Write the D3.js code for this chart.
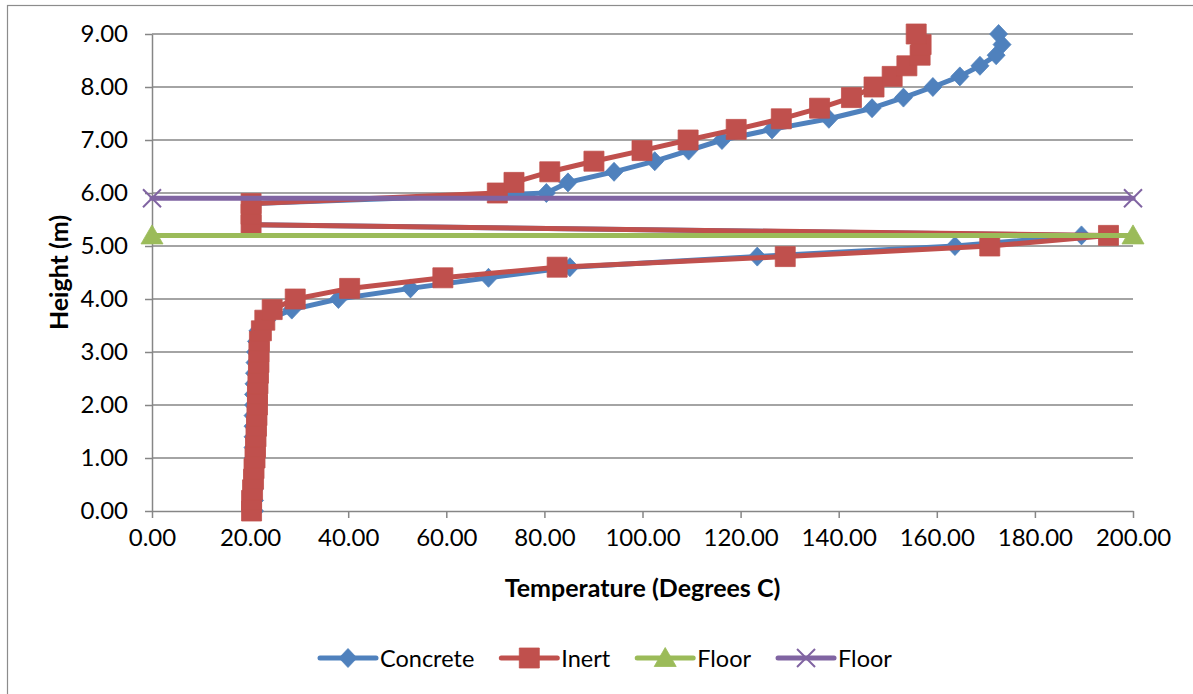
<!DOCTYPE html>
<html>
<head>
<meta charset="utf-8">
<script src="https://cdn.jsdelivr.net/npm/d3@7"></script>
<style>
  html, body { margin: 0; padding: 0; background: #ffffff; }
  svg { display: block; }
  text { font-family: Lato, "Open Sans", sans-serif; fill: #000; }
</style>
</head>
<body>
<svg id="chart" width="1193" height="694"></svg>
<script>
// Height of each measuring point (m)
const heights = [0.0, 0.2, 0.4, 0.6, 0.8, 1.0, 1.2, 1.4, 1.6, 1.8,
                 2.0, 2.2, 2.4, 2.6, 2.8, 3.0, 3.2, 3.4, 3.6, 3.8,
                 4.0, 4.2, 4.4, 4.6, 4.8, 5.0, 5.2, 5.4, 5.6, 5.8,
                 6.0, 6.2, 6.4, 6.6, 6.8, 7.0, 7.2, 7.4, 7.6, 7.8,
                 8.0, 8.2, 8.4, 8.6, 8.8, 9.0];

// Temperatures (Degrees C) at each height
const concreteTemps = [20.9, 20.9, 20.8, 20.7, 20.7, 20.6, 20.6, 20.6, 20.6, 20.6,
                       20.7, 20.7, 20.8, 20.9, 21.0, 21.1, 21.3, 21.6, 23.4, 28.5,
                       38.0, 52.7, 68.6, 85.2, 123.4, 163.7, 189.5, 20.2, 20.2, 20.2,
                       80.4, 84.8, 94.2, 102.5, 109.4, 116.2, 126.4, 138.0, 146.8, 153.2,
                       159.2, 164.7, 168.8, 172.1, 173.3, 172.6];

const inertTemps = [20.3, 20.3, 20.5, 20.7, 20.8, 21.0, 21.1, 21.2, 21.3, 21.4,
                    21.5, 21.5, 21.6, 21.7, 21.8, 21.8, 21.9, 22.3, 23.0, 24.5,
                    29.2, 40.3, 59.3, 82.6, 129.1, 170.8, 195.0, 20.2, 20.2, 20.2,
                    70.4, 73.8, 81.1, 90.1, 99.9, 109.3, 119.1, 128.3, 136.1, 142.6,
                    147.2, 150.9, 153.9, 156.6, 156.8, 155.8];

// Floor levels drawn across the full temperature range
const floorTemps = [0, 200];
const floorLowHeights = [5.2, 5.2];
const floorHighHeights = [5.9, 5.9];

// Axis ticks
const xTicks = [0, 20, 40, 60, 80, 100, 120, 140, 160, 180, 200];
const yTicks = [0, 1, 2, 3, 4, 5, 6, 7, 8, 9];

const seriesNames = ["Concrete", "Inert", "Floor", "Floor"];
const seriesColors = ["#4F81BD", "#C0504D", "#9BBB59", "#8064A2"];
const seriesMarkers = ["diamond", "square", "triangle", "cross"];

const series = [
  { name: seriesNames[0], color: seriesColors[0], marker: seriesMarkers[0],
    points: heights.map((h, i) => ({ t: concreteTemps[i], h })) },
  { name: seriesNames[1], color: seriesColors[1], marker: seriesMarkers[1],
    points: heights.map((h, i) => ({ t: inertTemps[i], h })) },
  { name: seriesNames[2], color: seriesColors[2], marker: seriesMarkers[2],
    points: floorTemps.map((t, i) => ({ t, h: floorLowHeights[i] })) },
  { name: seriesNames[3], color: seriesColors[3], marker: seriesMarkers[3],
    points: floorTemps.map((t, i) => ({ t, h: floorHighHeights[i] })) }
];

const svg = d3.select("#chart");
const plot = { left: 152, right: 1133, top: 34, bottom: 511 };
const axisGray = "#868686";

const x = d3.scaleLinear().domain([0, 200]).range([plot.left, plot.right]);
const y = d3.scaleLinear().domain([0, 9]).range([plot.bottom, plot.top]);

// Chart frame
svg.append("rect")
  .attr("x", 7.5).attr("y", 5.5)
  .attr("width", 1200).attr("height", 700)
  .attr("fill", "none").attr("stroke", "#8c8c8c").attr("stroke-width", 1.2);

// Horizontal gridlines
svg.append("g")
  .selectAll("line")
  .data(yTicks.filter(v => v > 0))
  .join("line")
  .attr("x1", plot.left).attr("x2", plot.right)
  .attr("y1", d => y(d)).attr("y2", d => y(d))
  .attr("stroke", axisGray).attr("stroke-width", 1.5);

// Y axis
const yAxis = svg.append("g")
  .attr("transform", `translate(${plot.left},0)`)
  .call(d3.axisLeft(y).tickValues(yTicks).tickFormat(d3.format(".2f"))
        .tickSizeInner(7).tickSizeOuter(0).tickPadding(17));
yAxis.select(".domain").attr("stroke", axisGray).attr("stroke-width", 1.5);
yAxis.selectAll(".tick line").attr("stroke", axisGray).attr("stroke-width", 1.5);
yAxis.selectAll(".tick text")
  .style("font-family", "Lato, sans-serif").style("font-size", "24px").attr("fill", "#000");

// X axis
const xAxis = svg.append("g")
  .attr("transform", `translate(0,${plot.bottom})`)
  .call(d3.axisBottom(x).tickValues(xTicks).tickFormat(d3.format(".2f"))
        .tickSizeInner(7).tickSizeOuter(0).tickPadding(11));
xAxis.select(".domain").attr("stroke", axisGray).attr("stroke-width", 1.5);
xAxis.selectAll(".tick line").attr("stroke", axisGray).attr("stroke-width", 1.5);
xAxis.selectAll(".tick text")
  .style("font-family", "Lato, sans-serif").style("font-size", "24px").attr("fill", "#000");

// Axis titles
svg.append("text")
  .attr("x", (plot.left + plot.right) / 2).attr("y", 587)
  .attr("text-anchor", "middle").attr("dominant-baseline", "central")
  .style("font-size", "25px").style("font-weight", "bold")
  .text("Temperature (Degrees C)");

svg.append("text")
  .attr("transform", `translate(58,${(plot.top + plot.bottom) / 2}) rotate(-90)`)
  .attr("text-anchor", "middle").attr("dominant-baseline", "central")
  .style("font-size", "25px").style("font-weight", "bold")
  .text("Height (m)");

// Marker shapes
function markerPath(kind) {
  switch (kind) {
    case "diamond": return "M0,-9.5L9,0L0,9.5L-9,0Z";
    case "square": return "M-10,-10H10V10H-10Z";
    case "triangle": return "M0,-10.5L11,8.5H-11Z";
    case "cross": return "M-9,-9L9,9M-9,9L9,-9";
  }
}
function drawMarker(g, kind, color) {
  const p = g.append("path").attr("d", markerPath(kind));
  if (kind === "cross") {
    p.attr("fill", "none").attr("stroke", color).attr("stroke-width", 2);
  } else {
    p.attr("fill", color).attr("stroke", color).attr("stroke-width", 0.8);
  }
}

const line = d3.line().x(d => x(d.t)).y(d => y(d.h));

// Series: line then markers, each series over the previous one
series.forEach(s => {
  const g = svg.append("g");
  g.append("path")
    .datum(s.points)
    .attr("d", line)
    .attr("fill", "none")
    .attr("stroke", s.color)
    .attr("stroke-width", 5)
    .attr("stroke-linejoin", "round")
    .attr("stroke-linecap", "round");
  s.points.forEach(p => {
    const mg = g.append("g").attr("transform", `translate(${x(p.t)},${y(p.h)})`);
    drawMarker(mg, s.marker, s.color);
  });
});

// Legend
const legend = svg.append("g").attr("transform", "translate(320,658)");
let cursor = 0;
series.forEach(s => {
  const item = legend.append("g").attr("transform", `translate(${cursor},0)`);
  item.append("line")
    .attr("x1", 0).attr("x2", 56).attr("y1", 0).attr("y2", 0)
    .attr("stroke", s.color).attr("stroke-width", 5).attr("stroke-linecap", "round");
  const mg = item.append("g").attr("transform", "translate(28,0)");
  drawMarker(mg, s.marker, s.color);
  const t = item.append("text")
    .attr("x", 60).attr("y", 0)
    .attr("dominant-baseline", "central")
    .style("font-size", "23.5px")
    .text(s.name);
  cursor += 60 + t.node().getComputedTextLength() + 27;
});
</script>
</body>
</html>
